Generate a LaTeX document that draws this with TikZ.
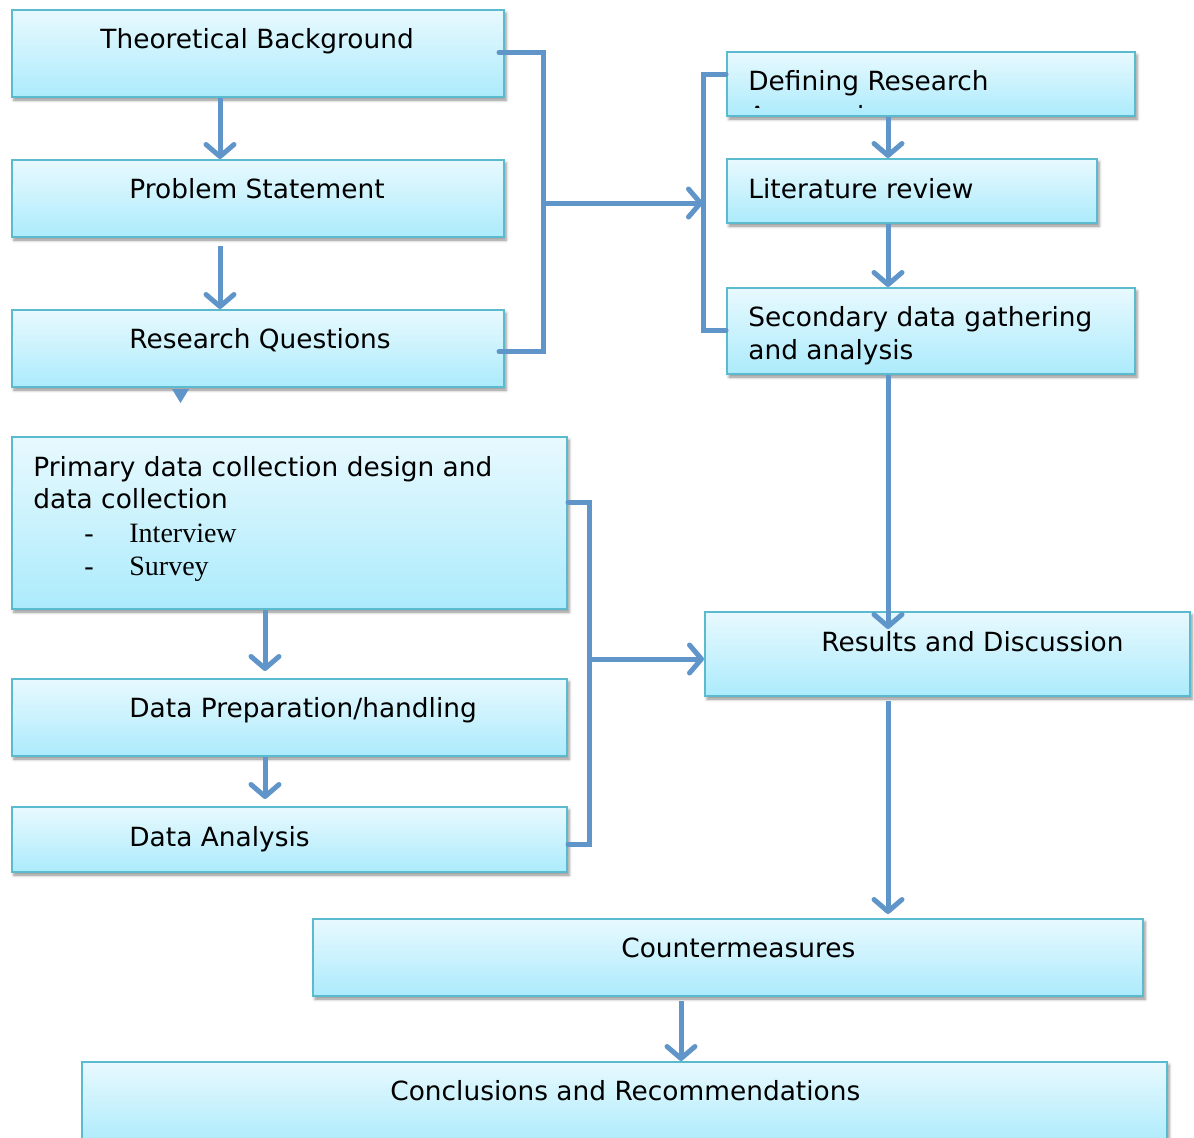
\documentclass[tikz,border=0pt]{standalone}
\usepackage{fontspec}
\setmainfont{DejaVu Sans}
\newfontfamily\itemfont{Liberation Serif}
\usetikzlibrary{arrows.meta,calc,fit,shadows.blur}
\definecolor{linkblue}{RGB}{96,149,201}
\definecolor{boxedge}{RGB}{90,186,206}
\definecolor{boxtop}{RGB}{232,249,254}
\definecolor{boxbottom}{RGB}{172,235,252}
\tikzset{
  stepbox/.style={rectangle, draw=boxedge, line width=1pt,
    top color=boxtop, bottom color=boxbottom, inner sep=0pt,
    blur shadow={shadow xshift=1pt, shadow yshift=-1.5pt,
      shadow blur radius=1.5pt, shadow opacity=45}},
  lbl/.style={anchor=base west, inner sep=0pt, font=\fontsize{13.2}{16}\selectfont},
  itm/.style={anchor=base west, inner sep=0pt, font=\itemfont\fontsize{14}{16}\selectfont},
  link/.style={draw=linkblue, line width=2.5pt},
  flow/.style={link, -{Straight Barb[length=6pt,width=14pt,round]}},
}
\begin{document}
\begin{tikzpicture}[x=0.5pt,y=-0.5pt]
\useasboundingbox (0,0) rectangle (1194,1137);

% left column
\node[stepbox, fit={(12,10) (504,97)}] (tb) {};
\node[lbl] (tbt) at (100,48) {Theoretical Background};
\node[stepbox, fit={(12,160) (504,237)}] (ps) {};
\node[lbl] (pst) at (129,198) {Problem Statement};
\node[stepbox, fit={(12,310) (504,387)}] (rq) {};
\node[lbl] (rqt) at (129,348) {Research Questions};

% right column
\node[stepbox, fit={(727,52) (1135,116)}] (dr) {};
\node[lbl] (drt) at (748,90) {Defining Research};
\begin{scope}
  % the second line runs past the text frame and is cut off
  \clip ($(dr.north west)+(0,1)$) rectangle ($(dr.south east)+(0,-10)$);
  \node[lbl] (drb) at (748,125) {Approach};
\end{scope}
\node[stepbox, fit={(727,159) (1097,223)}] (lr) {};
\node[lbl] (lrt) at (748,198) {Literature review};
\node[stepbox, fit={(727,288) (1135,374)}] (sd) {};
\node[lbl] (sdt1) at (748,326) {Secondary data gathering};
\node[lbl] (sdt2) at (748,359) {and analysis};

% primary data branch
\node[stepbox, fit={(12,437) (567,609)}] (pd) {};
\node[lbl] (pdt1) at (33,476) {Primary data collection design and};
\node[lbl] (pdt2) at (33,508) {data collection};
\node[itm] (pdd1) at (84,542) {-};
\node[itm] (pdi1) at (129,542) {Interview};
\node[itm] (pdd2) at (84,575) {-};
\node[itm] (pdi2) at (129,575) {Survey};
\node[stepbox, fit={(12,679) (567,756)}] (dp) {};
\node[lbl] (dpt) at (129,717) {Data Preparation/handling};
\node[stepbox, fit={(12,807) (567,872)}] (da) {};
\node[lbl] (dat) at (129,846) {Data Analysis};

% outcome boxes
\node[stepbox, fit={(705,612) (1190,696)}] (rd) {};
\node[lbl] (rdt) at (821,651) {Results and Discussion};
\node[stepbox, fit={(313,919) (1143,996)}] (cm) {};
\node[lbl] (cmt) at (621,957) {Countermeasures};
\node[stepbox, fit={(82,1062) (1167,1145)}] (cr) {};
\node[lbl] (crt) at (390,1100) {Conclusions and Recommendations};

% junction points of the brackets
\coordinate (j1) at (543,203);
\coordinate (j2) at (703,203);
\coordinate (j3) at (589,659);

% vertical flow, left column
\draw[flow] ($(tb.south west)+(209,0)$) -- ($(ps.north west)+(209,0)$);
\draw[flow] ($(ps.south west)+(209,8)$) -- ($(rq.north west)+(209,0)$);
\fill[linkblue] ($(rq.south west)+(161,1)$) -- ++(17,0) -- ++(-8.5,14) -- cycle;

% bracket joining the first three boxes
\draw[link, line cap=round] ($(tb.east)+(-6,-1)$) -| (j1) |- ($(rq.east)+(-6,3)$);
\draw[flow] (j1) -- (j2);
\draw[link, line cap=round] ($(dr.west)+(0,-10)$) -| (j2) |- ($(sd.west)+(0,-1)$);

% vertical flow, right column
\draw[flow] ($(dr.south west)+(162,0)$) -- ($(lr.north west)+(162,0)$);
\draw[flow] ($(lr.south west)+(162,0)$) -- ($(sd.north west)+(162,0)$);
\draw[flow] ($(sd.south west)+(162,0)$) -- ($(rd.north west)+(184,18)$);

% primary data branch
\draw[flow] ($(pd.south west)+(254,0)$) -- ($(dp.north west)+(254,-7)$);
\draw[flow] ($(dp.south west)+(254,0)$) -- ($(da.north west)+(254,-7)$);
\draw[link, line cap=round] ($(pd.east)+(0,-21)$) -| (j3) |- ($(da.east)+(0,5)$);
\draw[flow] (j3) -- (j3 -| rd.west);

% towards the conclusions
\draw[flow] ($(rd.south west)+(184,4)$) -- ($(cm.north west)+(576,-4)$);
\draw[flow] ($(cm.south west)+(369,4)$) -- ($(cr.north west)+(600,0)$);
\end{tikzpicture}
\end{document}
